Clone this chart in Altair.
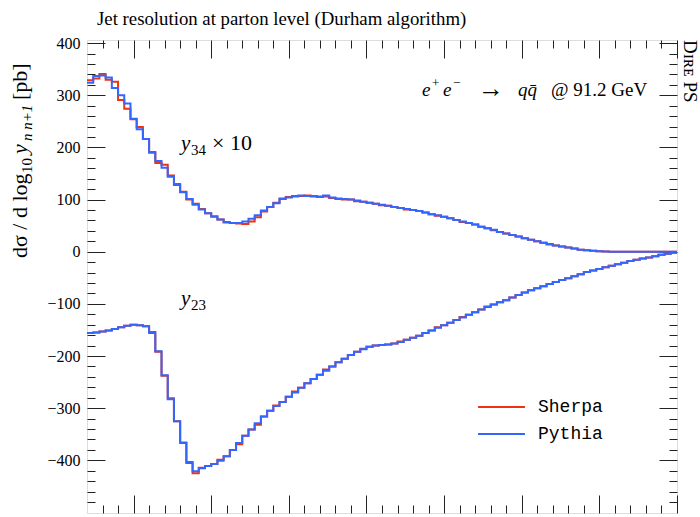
import altair as alt
import pandas as pd

# ---------------- data ----------------
X_MIN, X_MAX = -7.6, 0.0
BIN_W = 0.08
N_BINS = 95

y34_pythia = [324, 337, 338, 334, 314, 300, 284, 255, 235, 216,
              191, 174, 161, 144, 130, 114, 101, 90, 81, 74,
              68, 62, 57, 55, 55, 58, 63, 70, 79, 86,
              93, 101, 104, 107, 108, 107, 107, 106, 108, 104,
              102, 101, 100, 98, 96, 94, 92, 90, 88, 86,
              84, 82, 80, 78, 75, 72, 70, 67, 64, 61,
              58, 55, 52, 48, 45, 42, 38, 35, 32, 29,
              26, 23, 20, 17, 15, 12, 10, 8, 6, 4,
              3, 2, 1, 0.5, 0, 0, 0, 0, 0, 0,
              0, 0, 0, 0, 0]
y34_sherpa = [329, 332, 341, 330, 326, 291, 274, 254, 239, 216,
              190, 170, 167, 146, 128, 115, 100, 92, 82, 74,
              67, 62, 56, 55, 54, 53, 58, 66, 77, 86,
              94, 102, 105, 106, 107, 108, 106, 105, 106, 103,
              101, 100, 100, 97, 96, 94, 92, 89, 88, 86,
              84, 81, 80, 78, 75, 72, 69, 67, 64, 61,
              57, 55, 52, 48, 45, 41, 38, 35, 32, 29,
              26, 23, 20, 17, 14, 12, 10, 8, 6, 4,
              3, 2, 1, 0.5, 0, 0, 0, 0, 0, 0,
              0, 0, 0, 0, 0]
y23_pythia = [-156, -155, -153, -151, -148, -145, -142, -140, -141, -143,
              -154, -191, -237, -283, -325, -366, -403, -421, -415, -411,
              -407, -401, -392, -380, -367, -353, -341, -329, -316, -305,
              -296, -288, -278, -270, -261, -252, -244, -236, -228, -220,
              -212, -205, -198, -192, -187, -182, -180, -179, -178, -176,
              -173, -169, -165, -161, -156, -151, -146, -141, -136, -131,
              -126, -121, -116, -111, -106, -101, -97, -93, -88, -83,
              -78, -74, -70, -66, -62, -58, -54, -51, -47, -43,
              -39, -36, -33, -30, -27, -24, -21, -18, -15.5, -13,
              -11, -8.5, -6, -4, -2]
y23_sherpa = [-156, -155, -153, -151, -148, -145, -142, -140, -141, -143,
              -156, -192, -238, -281, -325, -367, -405, -425, -414, -411,
              -407, -399, -392, -380, -369, -353, -341, -332, -316, -305,
              -295, -288, -278, -268, -261, -252, -244, -236, -226, -220,
              -212, -205, -198, -192, -186, -182, -180, -179, -178, -176,
              -172, -169, -165, -161, -156, -151, -145, -141, -136, -131,
              -125, -121, -116, -111, -105, -101, -97, -93, -88, -83,
              -78, -74, -70, -66, -62, -58, -54, -51, -47, -43,
              -39, -36, -33, -30, -27, -24, -21, -18, -15.5, -13,
              -11, -8.5, -6, -4, -2]

generators = ["Sherpa", "Pythia"]
colors = ["#EE3311", "#3366FF"]

y_major = [-400, -300, -200, -100, 0, 100, 200, 300, 400]
y_minor = [v for v in range(-500, 401, 20) if v % 100 != 0]
x_major = [-7, -6, -5, -4, -3, -2, -1, 0]
x_minor = [round(-7.4 + 0.2 * i, 2) for i in range(38)
           if abs(round(-7.4 + 0.2 * i, 2) - round(-7.4 + 0.2 * i)) > 1e-6]

edges = [round(X_MIN + BIN_W * i, 4) for i in range(N_BINS + 1)]

rows = []
for gen, series in [("Sherpa", {"y34": y34_sherpa, "y23": y23_sherpa}),
                    ("Pythia", {"y34": y34_pythia, "y23": y23_pythia})]:
    for obs, vals in series.items():
        for i in range(N_BINS):
            rows.append({"gen": gen, "obs": obs, "x": edges[i], "v": vals[i]})
        rows.append({"gen": gen, "obs": obs, "x": edges[N_BINS], "v": vals[-1]})
df = pd.DataFrame(rows)

W, H = 590, 473
SERIF = "Liberation Serif"
TICK = "#222222"

xscale = alt.Scale(domain=[X_MIN, X_MAX], nice=False, zero=False)
yscale = alt.Scale(domain=[-501, 406], nice=False, zero=False)


def ax(orient, values, size, labels=False):
    kw = dict(orient=orient, values=values, tickSize=size, offset=-size,
              domain=False, grid=False, title=None, tickColor=TICK,
              tickWidth=1, labels=labels)
    if labels:
        kw.update(labelFont=SERIF, labelFontSize=16, labelPadding=7,
                  labelColor="black")
    return alt.Axis(**kw)


color = alt.Color(
    "gen:N",
    scale=alt.Scale(domain=generators, range=colors),
    legend=alt.Legend(orient="none", legendX=390, legendY=357, title=None,
                      symbolType="stroke", symbolSize=2200,
                      symbolStrokeWidth=2, labelFont="Liberation Mono",
                      labelFontSize=18, labelColor="black", labelOffset=12,
                      clipHeight=20, rowPadding=7, padding=0),
)

base = alt.Chart(df)

red = base.transform_filter(alt.datum.gen == "Sherpa").mark_line(
    interpolate="step-after", strokeWidth=2, strokeJoin="miter"
).encode(
    x=alt.X("x:Q", scale=xscale, axis=ax("bottom", x_major, 18)),
    y=alt.Y("v:Q", scale=yscale, axis=ax("left", y_major, 18, labels=True)),
    color=color,
    detail="obs:N",
)

blue = base.transform_filter(alt.datum.gen == "Pythia").mark_line(
    interpolate="step-after", strokeWidth=2, strokeJoin="miter"
).encode(
    x=alt.X("x:Q", scale=xscale, axis=ax("bottom", x_minor, 8)),
    y=alt.Y("v:Q", scale=yscale, axis=ax("left", y_minor, 8)),
    color=color,
    detail="obs:N",
)

ghost1 = base.mark_line(opacity=0).encode(
    x=alt.X("x:Q", scale=xscale, axis=ax("top", x_major, 18)),
    y=alt.Y("v:Q", scale=yscale, axis=ax("right", y_major, 18)),
    detail="obs:N",
)
ghost2 = base.mark_line(opacity=0).encode(
    x=alt.X("x:Q", scale=xscale, axis=ax("top", x_minor, 8)),
    y=alt.Y("v:Q", scale=yscale, axis=ax("right", y_minor, 8)),
    detail="obs:N",
)

one = pd.DataFrame({"a": [0]})


def label(text, x, y, size=18, style="normal", font=SERIF, angle=0,
          align="left", baseline="alphabetic"):
    return alt.Chart(one).mark_text(
        text=text, font=font, fontSize=size, fontStyle=style, angle=angle,
        align=align, baseline=baseline, color="black"
    ).encode(x=alt.value(x), y=alt.value(y))


YB = -60   # baseline of the rotated y-axis title (relative to plot left)
texts = [
    label("Jet resolution at parton level (Durham algorithm)", 10, -15, size=18.8),
    # y-axis title, rotated, assembled from pieces
    label("dσ / d log", YB, 218, size=22, angle=270),
    label("10", YB + 5, 133, size=15, angle=270),
    label("y", YB, 114, size=22, style="italic", angle=270),
    label("n n+1", YB + 5, 101, size=15, style="italic", angle=270),
    label("[pb]", YB, 60, size=22, angle=270),
    # process annotation
    label("e", 335, 56, size=19, style="italic"),
    label("+", 345, 47, size=13),
    label("e", 356, 56, size=19, style="italic"),
    label("−", 366, 47, size=13),
    label("→", 391, 57, size=26),
    label("qq̄", 431, 56, size=19, style="italic"),
    label("@ 91.2 GeV", 464, 56, size=19),
    # observable labels
    label("y", 94, 110, size=21, style="italic"),
    label("34", 104, 115, size=15),
    label("× 10", 125, 110, size=22),
    label("y", 94, 265, size=21, style="italic"),
    label("23", 104, 270, size=15),
    label("Dɪʀᴇ PS", 603, 0, size=19, angle=90, align="left",
          baseline="middle"),
]

chart = alt.layer(red, blue, ghost1, ghost2, *texts).resolve_axis(
    x="independent", y="independent"
).properties(
    width=W, height=H,
    autosize=alt.AutoSizeParams(type="none"),
    padding={"left": 87, "top": 40, "right": 23, "bottom": 4},
).configure_view(stroke="#111111", strokeWidth=1).configure(background="white")

chart.save("out.html", embed_options={"renderer": "svg", "actions": False})
